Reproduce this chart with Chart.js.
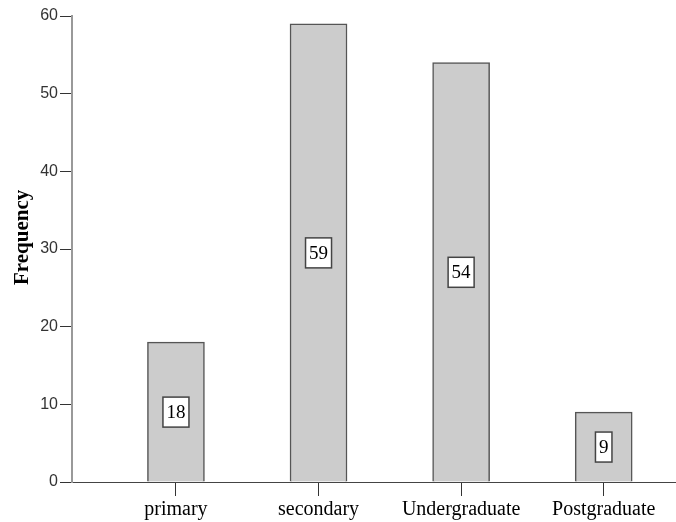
<!DOCTYPE html>
<html>
<head>
<meta charset="utf-8">
<script src="https://cdn.jsdelivr.net/npm/chart.js@4/dist/chart.umd.min.js"></script>
<style>
  html, body { margin: 0; padding: 0; background: #fff; }
  #wrap { width: 676px; height: 522px; }
</style>
</head>
<body>
<div id="wrap"><canvas id="barChart"></canvas></div>
<script>
var categories = ["primary", "secondary", "Undergraduate", "Postgraduate"];
var frequency = [18, 59, 54, 9];
var yTicks = [0, 10, 20, 30, 40, 50, 60];
var yTitle = "Frequency";

// bar labels in little white boxes, like SPSS does
var boxLabels = {
  id: "boxLabels",
  afterDatasetsDraw: function (chart) {
    var ctx = chart.ctx;
    var yScale = chart.scales.y;
    var meta = chart.getDatasetMeta(0);
    ctx.save();
    ctx.font = "19px 'Liberation Serif'";
    ctx.textAlign = "center";
    ctx.textBaseline = "middle";
    meta.data.forEach(function (bar, i) {
      var v = frequency[i];
      var txt = String(v);
      var cy = yScale.getPixelForValue(v / 2);
      var w = ctx.measureText(txt).width + 7;
      var h = 30;
      ctx.fillStyle = "#ffffff";
      ctx.fillRect(bar.x - w / 2, cy - h / 2, w, h);
      ctx.strokeStyle = "#444";
      ctx.lineWidth = 1.5;
      ctx.strokeRect(bar.x - w / 2, cy - h / 2, w, h);
      ctx.fillStyle = "#000";
      ctx.fillText(txt, bar.x, cy + 1);
    });
    ctx.restore();
  }
};

// y title sits a bit above the middle of the axis in the original
var sideTitle = {
  id: "sideTitle",
  afterDraw: function (chart) {
    var ctx = chart.ctx;
    var yScale = chart.scales.y;
    ctx.save();
    ctx.translate(23, yScale.getPixelForValue(31.5));
    ctx.rotate(-Math.PI / 2);
    ctx.font = "bold 21px 'Liberation Serif'";
    ctx.textAlign = "center";
    ctx.textBaseline = "middle";
    ctx.fillStyle = "#000";
    ctx.fillText(yTitle, 0, 0);
    ctx.restore();
  }
};

var ctx = document.getElementById("barChart").getContext("2d");
var barChart = new Chart(ctx, {
  type: "bar",
  data: {
    datasets: [
      {
        data: frequency.map(function (v, i) { return { x: i, y: v }; }),
        backgroundColor: "#cccccc",
        borderColor: "#555555",
        borderWidth: 1.5,
        barThickness: 57
      }
    ]
  },
  options: {
    responsive: true,
    maintainAspectRatio: false,
    animation: false,
    layout: { padding: { top: 16, right: 1, left: 0, bottom: 0 } },
    plugins: {
      legend: { display: false },
      tooltip: { enabled: false }
    },
    scales: {
      x: {
        type: "linear",
        min: -0.729,
        max: 3.5,
        offset: false,
        afterBuildTicks: function (scale) {
          scale.ticks = categories.map(function (c, i) { return { value: i }; });
        },
        afterFit: function (scale) { scale.height = 40; },
        grid: {
          offset: false,
          drawOnChartArea: false,
          drawTicks: true,
          tickLength: 14,
          color: "#333"
        },
        border: { color: "#444", width: 1 },
        ticks: {
          autoSkip: false,
          maxRotation: 0,
          padding: 2,
          color: "#000",
          font: { family: "'Liberation Serif'", size: 20 },
          callback: function (value) { return categories[value]; }
        }
      },
      y: {
        min: 0,
        max: 60,
        afterBuildTicks: function (scale) {
          scale.ticks = yTicks.map(function (t) { return { value: t }; });
        },
        afterFit: function (scale) { scale.width = 72; },
        grid: {
          drawOnChartArea: false,
          drawTicks: true,
          tickLength: 12,
          color: "#333"
        },
        border: { color: "#999", width: 2 },
        ticks: {
          padding: 2,
          color: "#333",
          font: { family: "'Liberation Sans'", size: 16 }
        }
      }
    }
  },
  plugins: [boxLabels, sideTitle]
});
</script>
</body>
</html>
